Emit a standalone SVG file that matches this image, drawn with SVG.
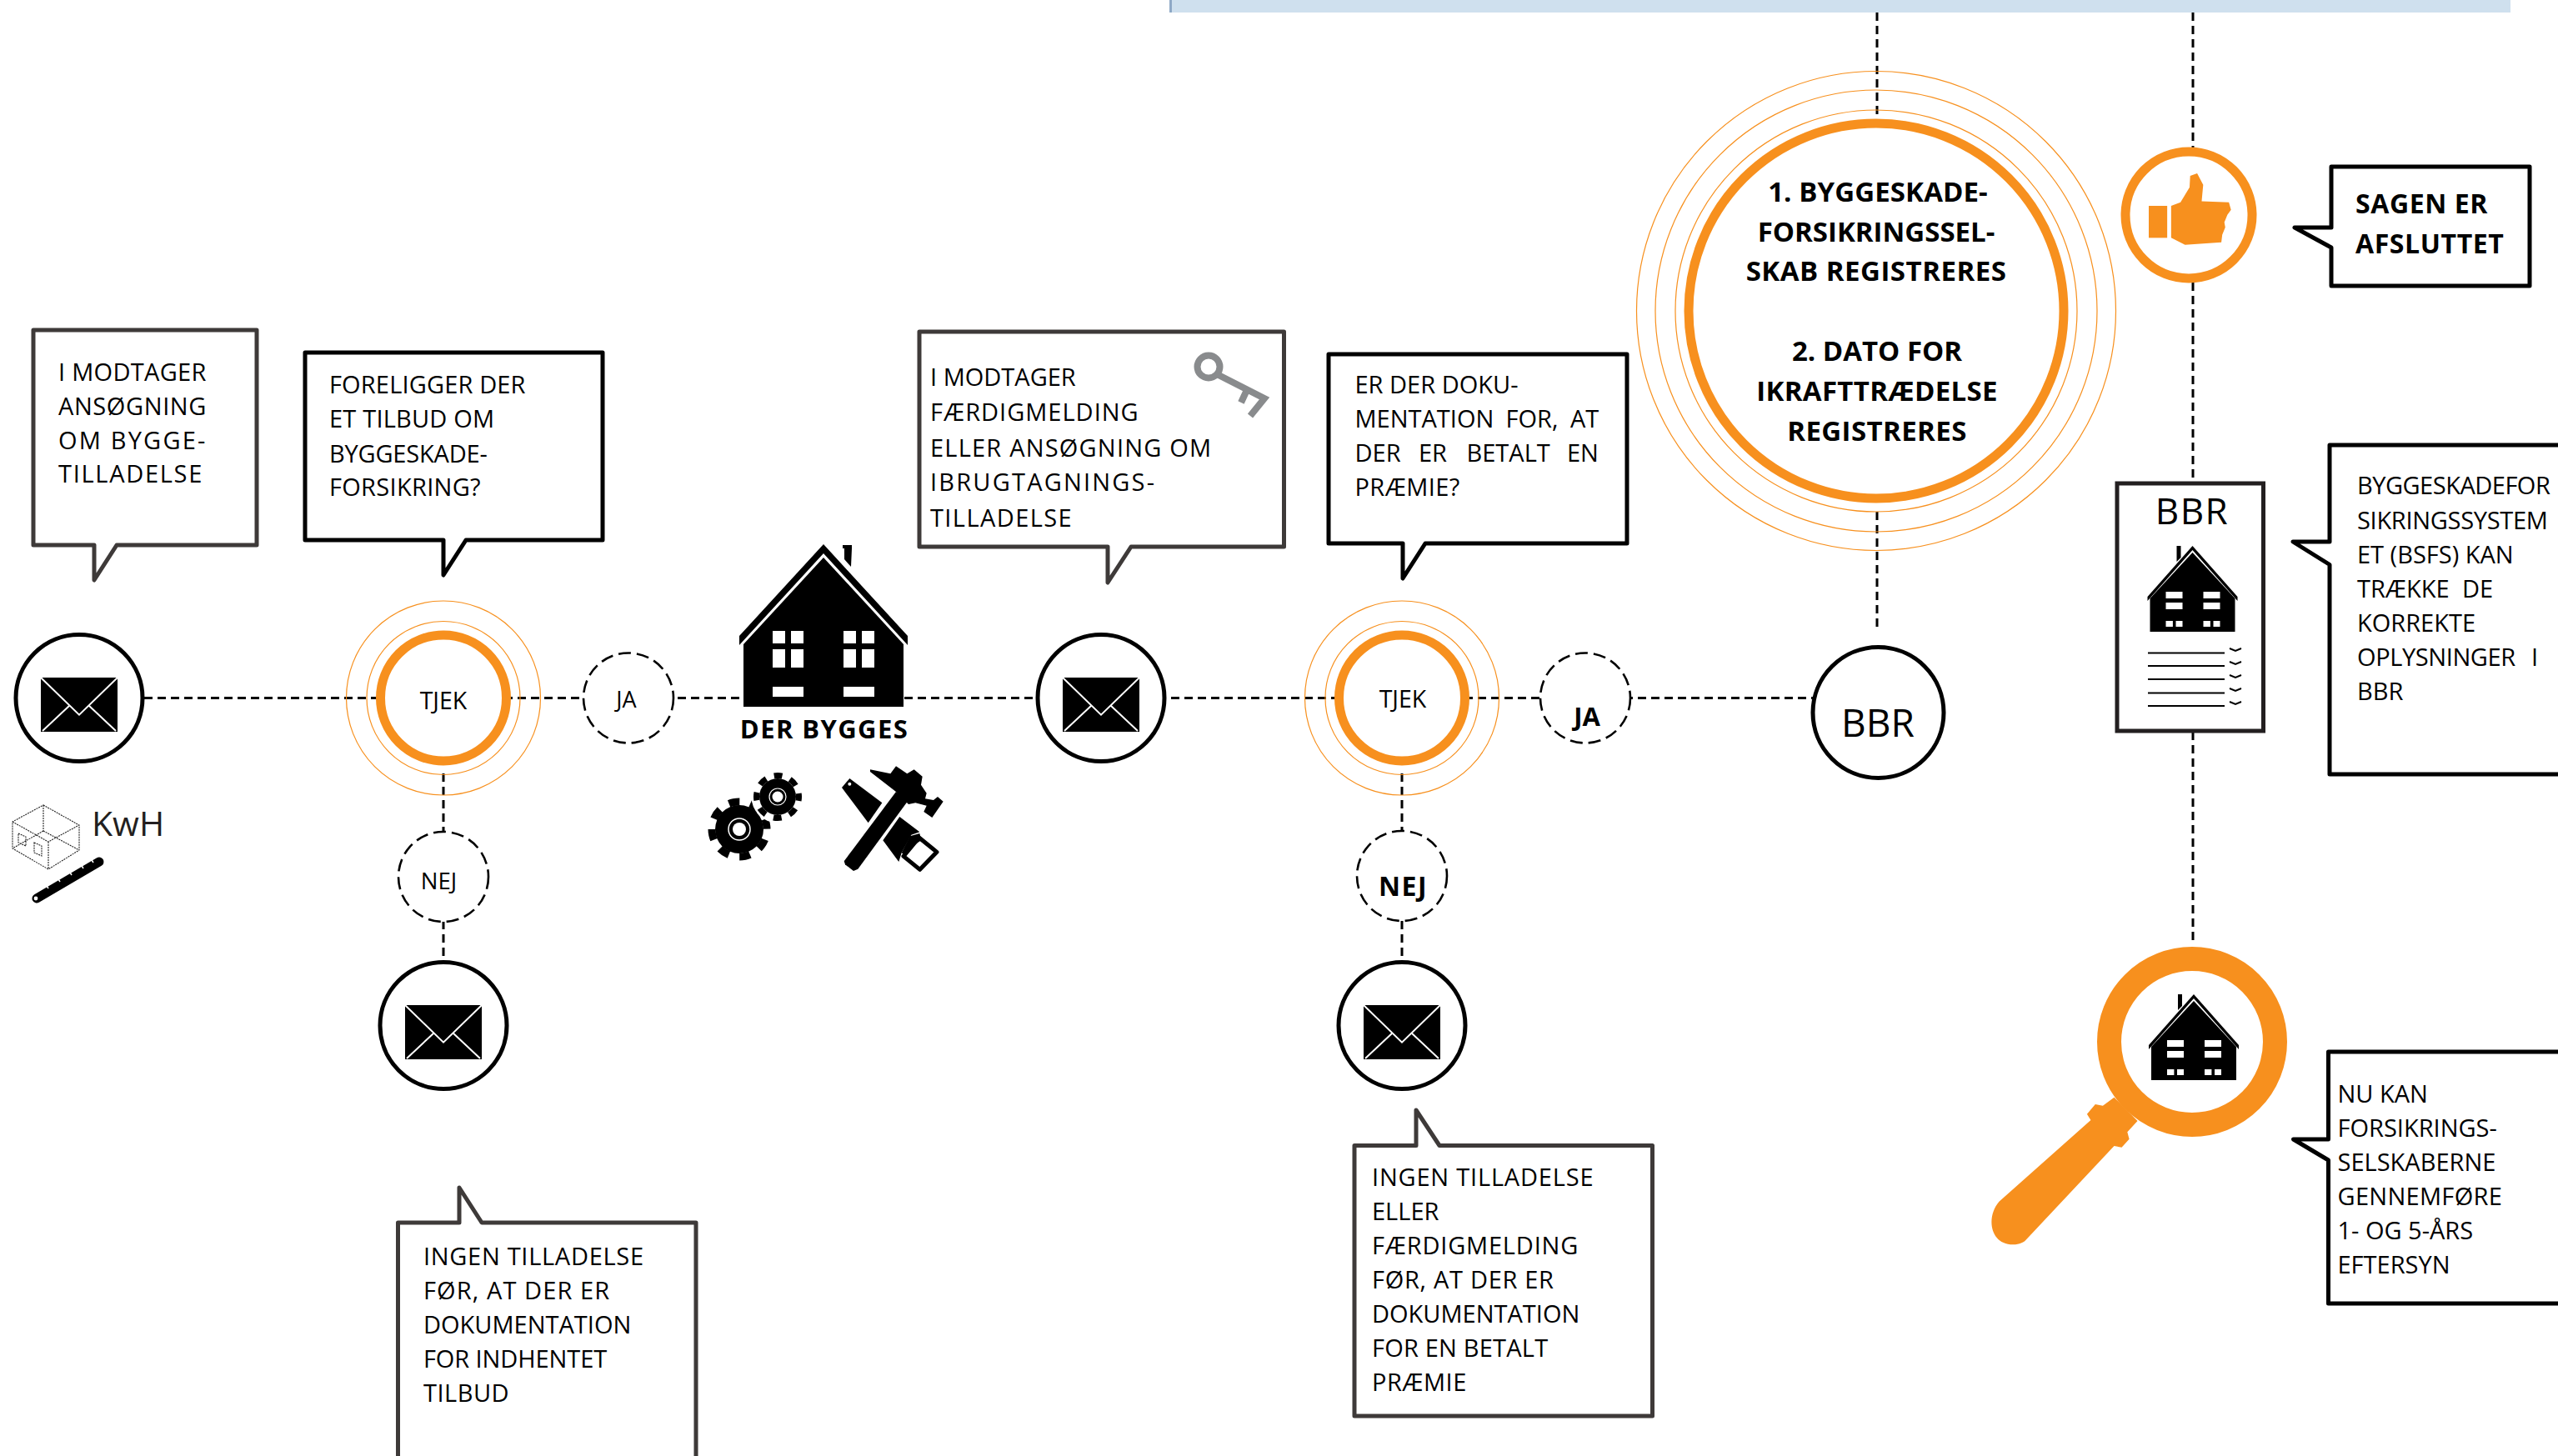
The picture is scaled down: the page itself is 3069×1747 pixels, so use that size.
<svg xmlns="http://www.w3.org/2000/svg" width="3069" height="1747" viewBox="0 0 3069 1747">
<style>
text{font-family:"Open Sans","Noto Sans","Liberation Sans",sans-serif;fill:#000}
.t{font-size:29px}
.b{font-weight:700}
.tb{font-size:33px;font-weight:700}
.bub{fill:#fff;stroke:#000;stroke-width:5;stroke-linejoin:round}
.bubg{fill:#fff;stroke:#3e3a39;stroke-width:5;stroke-linejoin:round}
.dash{fill:none;stroke:#000;stroke-width:3;stroke-dasharray:10 6}
.dc{fill:#fff;stroke:#000;stroke-width:2.6;stroke-dasharray:15 7}
.ring{fill:#fff;stroke:#f7901e;stroke-width:11}
.thin{fill:none;stroke:#f7901e;stroke-width:1.2}
.circ{fill:#fff;stroke:#000;stroke-width:5}
.c{text-anchor:middle}
</style>
<defs>
<g id="env">
<rect width="92" height="65" fill="#000"/>
<path d="M0,0L46,44.6L92,0M2,64L35,33M90,64L57,33" fill="none" stroke="#fff" stroke-width="2"/>
</g>
<g id="sh">
<path d="M-54,61L0,0L54,61V66L0,5L-54,66Z" fill="#000"/>
<path d="M-19,0H-14V14L-19,19Z" fill="#000"/>
<path d="M0,8L51,63V103H-51V63Z" fill="#000"/>
<path d="M-32,55h20v8h-20zM-32,68h20v8h-20zM-32,90h8.4v7h-8.4zM-20,90h8v7h-8zM13,55h20v8h-20zM13,68h20v8h-20zM13,90h8.4v7h-8.4zM25,90h8v7h-8z" fill="#fff"/>
</g>
</defs>

<rect id="topbar" x="1403" y="0" width="1609" height="15" fill="#cfe0ee"/>
<rect x="1403" y="0" width="3" height="15" fill="#8fa9c6"/>

<g id="connectors">
<path class="dash" d="M173,837.5H2175"/>
<path class="dash" d="M532,928V998M532,1105V1150M1682,928V998M1682,1105V1150"/>
<path class="dash" d="M2252,15V137M2252,614V755"/>
<path class="dash" d="M2631,15V177M2631,339V580M2631,878V1130" stroke="#231f20"/>
</g>

<g id="bubble-modtager">
<path class="bubg" d="M40,396H308V654H140L113,696V654H40Z"/>
<text class="t"><tspan x="70" y="457" letter-spacing=".3">I MODTAGER</tspan><tspan x="70" y="498" letter-spacing=".6">ANSØGNING</tspan><tspan x="70" y="539" letter-spacing="2.2">OM BYGGE-</tspan><tspan x="70" y="579" letter-spacing="1.7">TILLADELSE</tspan></text>
</g>
<g id="bubble-foreligger">
<path class="bub" d="M366,423H723V648H559L532,690V648H366Z"/>
<text class="t"><tspan x="395" y="472" letter-spacing=".15">FORELIGGER DER</tspan><tspan x="395" y="513" letter-spacing=".2">ET TILBUD OM</tspan><tspan x="395" y="555" letter-spacing="-.2">BYGGESKADE-</tspan><tspan x="395" y="595" letter-spacing=".3">FORSIKRING?</tspan></text>
</g>
<g id="mail1"><circle class="circ" cx="95" cy="837.5" r="76"/><use href="#env" x="49" y="813"/></g>
<g id="kwh">
<text x="110" y="1003" font-size="41" style="fill:#231f20">KwH</text>
<path d="M52,966L95,990V1020L58,1043L15,1018V986ZM15,986L58,1010L95,990M58,1010V1043M52,966V997M52,997L15,1018M52,997L95,1020M22,1000L31,1004V1015L22,1011ZM41,1011L50,1015V1027L41,1023Z" fill="none" stroke="#222" stroke-width="1.1" stroke-dasharray="2 1"/>
<path d="M44,1078L119,1034" stroke="#000" stroke-width="11" stroke-linecap="round"/>
<circle cx="43" cy="1078" r="2.4" fill="#fff"/>
<path d="M58,1066l-2.500,-4M72,1058l-2.500,-4M86,1050l-2.500,-4M100,1042l-2.500,-4M112,1035l-2.500,-4" stroke="#fff" stroke-width="1.500"/>
</g>
<g id="tjek1">
<circle class="thin" cx="532" cy="837.5" r="116.500"/><circle class="thin" cx="532" cy="837.5" r="92"/>
<circle class="ring" cx="532" cy="837.5" r="75.500"/>
<text class="c" x="532" y="851" font-size="28.500">TJEK</text>
</g>
<g id="ja1"><circle class="dc" cx="754" cy="837.5" r="54"/><text class="c" x="751.500" y="849" font-size="27">JA</text></g>
<g id="nej1"><circle class="dc" cx="532" cy="1052" r="54"/><text class="c" x="526.500" y="1067" font-size="27.500">NEJ</text></g>
<g id="mail2"><circle class="circ" cx="532" cy="1230.500" r="76"/><use href="#env" x="486" y="1206"/></g>
<g id="bubble-ingen1">
<path class="bubg" d="M477.500,1800V1467H551V1425L578,1467H835V1800"/>
<text class="t"><tspan x="508" y="1518" letter-spacing=".7">INGEN TILLADELSE</tspan><tspan x="508" y="1559" letter-spacing="1.1">FØR, AT DER ER</tspan><tspan x="508" y="1600">DOKUMENTATION</tspan><tspan x="508" y="1641" letter-spacing="-.1">FOR INDHENTET</tspan><tspan x="508" y="1682" letter-spacing=".5">TILBUD</tspan></text>
</g>
<g id="house">
<path d="M988,653L1089,763V774L988,664L887,774V763Z" fill="#000"/>
<path d="M1011,654H1022V658L1021,680L1013,671V658L1011,658Z" fill="#000"/>
<path d="M988,669L1084,773V848H892V773Z" fill="#000"/>
<path d="M927,757h15v15h-15zM949,757h15v15h-15zM927,779h15v22h-15zM949,779h15v22h-15zM1012,757h15v15h-15zM1034,757h15v15h-15zM1012,779h15v22h-15zM1034,779h15v22h-15zM927,824h37v12h-37zM1012,824h37v12h-37z" fill="#fff"/>
<text class="c b" x="989" y="886" font-size="31" letter-spacing="1.4">DER BYGGES</text>
</g>
<g id="gears">
<circle cx="887" cy="995" r="29" fill="#000"/>
<circle cx="887" cy="995" r="33" fill="none" stroke="#000" stroke-width="9" stroke-dasharray="13 13" stroke-dashoffset="6.500" transform="rotate(-12 887 995)"/>
<circle cx="887" cy="995" r="13" fill="none" stroke="#fff" stroke-width="1.500"/>
<circle cx="887" cy="995" r="8" fill="#fff"/>
<circle cx="933" cy="956" r="31.500" fill="#fff"/>
<circle cx="933" cy="956" r="22" fill="#000"/>
<circle cx="933" cy="956" r="25.500" fill="none" stroke="#000" stroke-width="7" stroke-dasharray="10 10" stroke-dashoffset="5"/>
<circle cx="933" cy="956" r="10" fill="none" stroke="#fff" stroke-width="1.200"/>
<circle cx="933" cy="956" r="6.500" fill="#fff"/>
</g>
<g id="tools" transform="translate(820,900) scale(.33333)">
<path d="M570,135L598,102L715,190L665,262Z" fill="#000"/><circle cx="598" cy="122" r="6" fill="#fff"/>
<path d="M778,240L850,295L820,305L785,370L775,402L718,325Z" fill="#000"/>
<path d="M848,315L912,367L851,430L792,382Z" fill="#fff" stroke="#000" stroke-width="15" stroke-linejoin="round"/>
<path d="M850,300L815,310L785,370L800,380L825,345L856,325Z" fill="#000"/>
<path d="M578,400L765,150L810,180L628,428L612,435L582,412Z" fill="#000"/>
<path d="M672,70L745,85L765,58L805,85L830,70L860,95L855,125L875,155L870,175L900,180L915,168L935,185L895,243L865,222L875,200L835,190L810,195L765,150L672,78Z" fill="#000"/>
</g>
<g id="bubble-faerdig">
<path class="bubg" d="M1103,398H1540.500V656H1357L1329,699V656H1103Z"/>
<text class="t"><tspan x="1116" y="463">I MODTAGER</tspan><tspan x="1116" y="505" letter-spacing="1">FÆRDIGMELDING</tspan><tspan x="1116" y="548" letter-spacing="1.200">ELLER ANSØGNING OM</tspan><tspan x="1116" y="589" letter-spacing="2.200">IBRUGTAGNINGS-</tspan><tspan x="1116" y="632" letter-spacing="1.400">TILLADELSE</tspan></text>
<circle cx="1450" cy="440" r="13.500" fill="none" stroke="#898b8d" stroke-width="8"/>
<path d="M1462,450L1517,478L1500,499M1495,470L1489,483" fill="none" stroke="#898b8d" stroke-width="8"/>
</g>
<g id="mail3"><circle class="circ" cx="1321" cy="837.5" r="76"/><use href="#env" x="1275" y="813"/></g>
<g id="tjek2">
<circle class="thin" cx="1682" cy="837.5" r="116.500"/><circle class="thin" cx="1682" cy="837.5" r="92"/>
<circle class="ring" cx="1682" cy="837.5" r="75.500"/>
<text class="c" x="1683" y="849" font-size="28.500">TJEK</text>
</g>
<g id="bubble-doku">
<path class="bub" d="M1594,425H1952V652H1710L1683,694V652H1594Z"/>
<text class="t"><tspan x="1625.500" y="472">ER DER DOKU-</tspan><tspan x="1625.500" y="513">MENTATION</tspan><tspan x="1806.500" y="513">FOR,</tspan><tspan x="1884" y="513">AT</tspan><tspan x="1625.500" y="554">DER</tspan><tspan x="1702" y="554">ER</tspan><tspan x="1759.500" y="554">BETALT</tspan><tspan x="1880" y="554">EN</tspan><tspan x="1625.500" y="595" letter-spacing=".4">PRÆMIE?</tspan></text>
</g>
<g id="ja2"><circle class="dc" cx="1902" cy="837.5" r="54"/><text class="c b" x="1904" y="871" font-size="31">JA</text></g>
<g id="nej2"><circle class="dc" cx="1682" cy="1051" r="54"/><text class="c b" x="1683.500" y="1075" font-size="32" letter-spacing="1.500">NEJ</text></g>
<g id="mail4"><circle class="circ" cx="1682" cy="1230.500" r="76"/><use href="#env" x="1636" y="1206"/></g>
<g id="bubble-ingen2">
<path class="bubg" d="M1625,1374.500H1699V1332L1727,1374.500H1982.500V1699H1625Z"/>
<text class="t"><tspan x="1646" y="1423" letter-spacing=".8">INGEN TILLADELSE</tspan><tspan x="1646" y="1464">ELLER</tspan><tspan x="1646" y="1505" letter-spacing=".8">FÆRDIGMELDING</tspan><tspan x="1646" y="1546" letter-spacing=".7">FØR, AT DER ER</tspan><tspan x="1646" y="1587">DOKUMENTATION</tspan><tspan x="1646" y="1628" letter-spacing=".2">FOR EN BETALT</tspan><tspan x="1646" y="1669" letter-spacing=".5">PRÆMIE</tspan></text>
</g>
<g id="bbr-circle"><circle class="circ" cx="2253.500" cy="855" r="78.500"/><text class="c" x="2253" y="884" font-size="46">BBR</text></g>
<g id="registreres">
<circle class="thin" cx="2251" cy="373" r="287.500"/><circle class="thin" cx="2251" cy="373" r="265"/><circle class="thin" cx="2251" cy="373" r="241"/>
<circle class="ring" cx="2251" cy="373" r="225"/>
<text class="c tb"><tspan x="2253" y="242" letter-spacing=".1">1. BYGGESKADE-</tspan><tspan x="2251" y="290">FORSIKRINGSSEL-</tspan><tspan x="2251" y="337" letter-spacing=".5">SKAB REGISTRERES</tspan><tspan x="2252" y="433">2. DATO FOR</tspan><tspan x="2252" y="481" letter-spacing=".3">IKRAFTTRÆDELSE</tspan><tspan x="2252" y="529" letter-spacing=".4">REGISTRERES</tspan></text>
</g>
<g id="thumb">
<circle cx="2626" cy="258" r="76" fill="#fff" stroke="#f7901e" stroke-width="11"/>
<g transform="translate(2500,0) scale(.3628,.5995)" fill="#f7901e">
<rect x="215" y="412" width="61" height="64"/>
<path d="M289,412L320,405L350,375L352,352L375,347L395,370L390,403L480,405L487,420L475,430L465,445L468,455L458,470L455,485L335,490L289,476Z"/>
</g>
</g>
<g id="bubble-sagen">
<path class="bub" d="M2797,200H3035V343H2797V297L2753,273H2797Z"/>
<text class="tb" style="font-size:32px" letter-spacing=".6"><tspan x="2826" y="256">SAGEN ER</tspan><tspan x="2826" y="304">AFSLUTTET</tspan></text>
</g>
<g id="bbr-doc">
<rect x="2540" y="580" width="175.500" height="297" fill="#fff" stroke="#231f20" stroke-width="5"/>
<text class="c" x="2630" y="629" font-size="44" letter-spacing="1.500">BBR</text>
<use href="#sh" x="2630.500" y="655"/>
<path d="M2577,783.500H2669M2577,799H2669M2577,815H2669M2577,831.500H2669M2577,847H2669" stroke="#000" stroke-width="2"/>
<path d="M2675,778l7,3l7,-3M2675,794l7,3l7,-3M2675,810l7,3l7,-3M2675,826l7,3l7,-3M2675,842l7,3l7,-3" fill="none" stroke="#000" stroke-width="2"/>
</g>
<g id="bubble-bsfs">
<path class="bub" d="M3080,534H2795V650H2751L2795,677.500V929H3080"/>
<text class="t"><tspan x="2828" y="593" letter-spacing="-.5">BYGGESKADEFOR</tspan><tspan x="2828" y="635" letter-spacing="-.3">SIKRINGSSYSTEM</tspan><tspan x="2828" y="676">ET (BSFS) KAN</tspan><tspan x="2828" y="717">TRÆKKE</tspan><tspan x="2954" y="717">DE</tspan><tspan x="2828" y="758">KORREKTE</tspan><tspan x="2828" y="799" letter-spacing="-.4">OPLYSNINGER</tspan><tspan x="3037" y="799">I</tspan><tspan x="2828" y="840">BBR</tspan></text>
</g>
<g id="magnifier">
<path transform="translate(2360,1100) scale(.4525,.33333)" d="M390,650L360,680L340,675L318,710L328,732L85,1025C50,1080 60,1180 122,1180C140,1180 150,1172 155,1165L390,825L410,830L430,800L425,775L452,735Z" fill="#f7901e"/>
<circle cx="2630" cy="1250" r="99.500" fill="#fff" stroke="#f7901e" stroke-width="29"/>
<use href="#sh" x="2632" y="1193"/>
</g>
<g id="bubble-nukan">
<path class="bub" d="M3080,1262H2793.500V1367H2751.500L2793.500,1392V1564H3080"/>
<text class="t"><tspan x="2804.500" y="1323">NU KAN</tspan><tspan x="2804.500" y="1364">FORSIKRINGS-</tspan><tspan x="2804.500" y="1405">SELSKABERNE</tspan><tspan x="2804.500" y="1446" letter-spacing=".3">GENNEMFØRE</tspan><tspan x="2804.500" y="1487">1- OG 5-ÅRS</tspan><tspan x="2804.500" y="1528">EFTERSYN</tspan></text>
</g>
</svg>
